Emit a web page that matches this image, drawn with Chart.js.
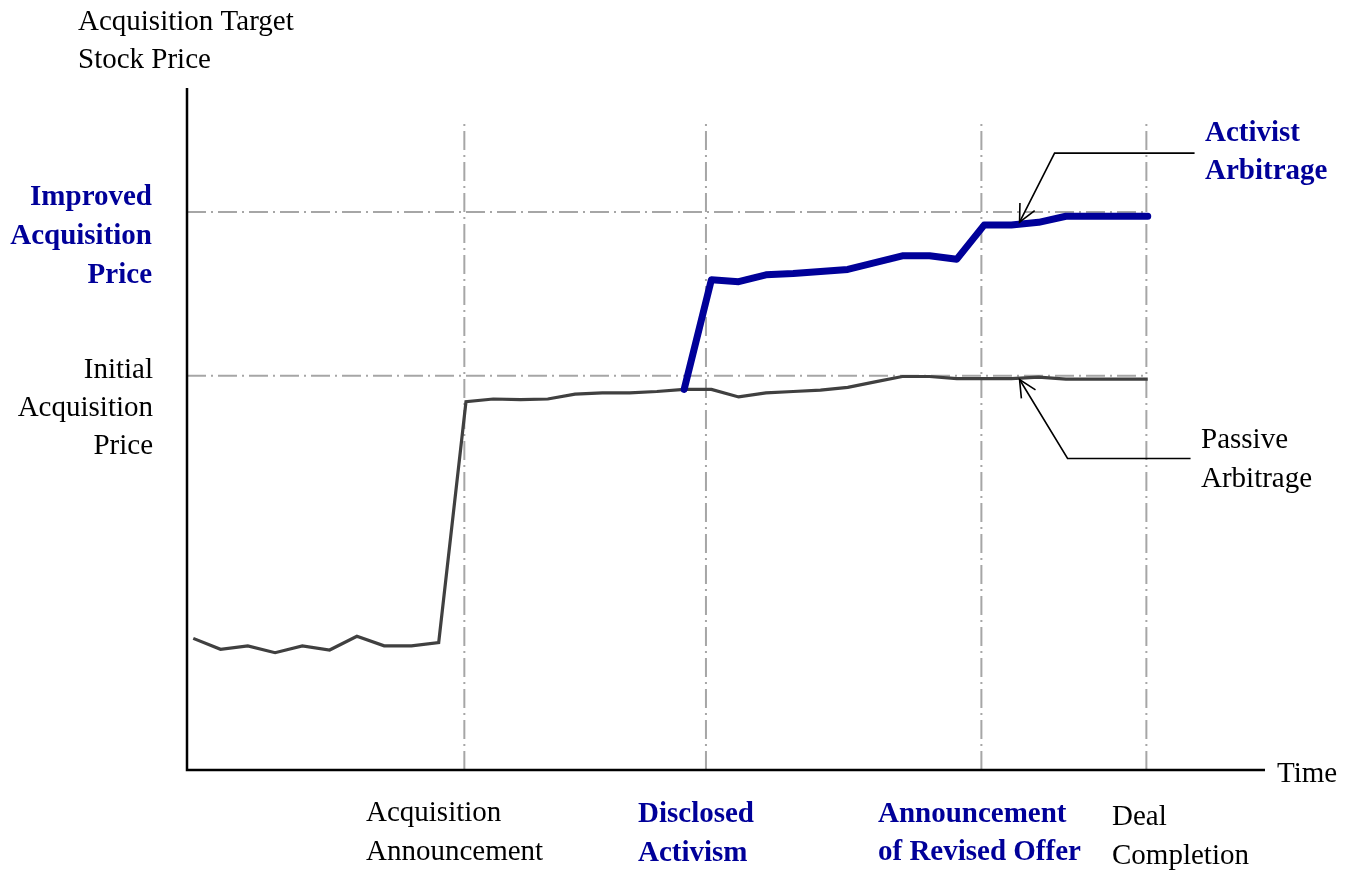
<!DOCTYPE html>
<html lang="en">
<head>
  <meta charset="UTF-8">
  <title>Activist vs Passive Arbitrage</title>
  <style>
    body { margin: 0; background: white; }
    #wrap { width: 1356px; height: 871px; position: relative; }
  </style>
  <script src="https://cdn.jsdelivr.net/npm/chart.js"></script>
</head>
<body>
  <div id="wrap"><canvas id="myChart" width="1356" height="871"></canvas></div>

  <script>
    // time steps (arbitrary units along the time axis)
    const periods = [0, 1, 2, 3, 4, 5, 6, 7, 8, 9, 10, 11, 12, 13, 14, 15, 16, 17,
                     18, 19, 20, 21, 22, 23, 24, 25, 26, 27, 28, 29, 30, 31, 32, 33, 34, 35];

    // target stock price, passive arbitrage path (0-100 scale)
    const passive = [19.3, 17.7, 18.2, 17.2, 18.2, 17.6, 19.6, 18.2, 18.2, 18.7,
                     54.0, 54.4, 54.3, 54.4, 55.1, 55.3, 55.3, 55.5, 55.8, 55.8,
                     54.7, 55.3, 55.5, 55.7, 56.1, 56.9, 57.7, 57.7, 57.4, 57.4,
                     57.4, 57.6, 57.3, 57.3, 57.3, 57.3];

    // activist arbitrage path, starts when activism is disclosed
    const activist = [null, null, null, null, null, null, null, null, null, null,
                      null, null, null, null, null, null, null, null,
                      55.8, 71.9, 71.6, 72.6, 72.8, 73.1, 73.4, 74.4, 75.4, 75.4,
                      74.9, 79.9, 79.9, 80.3, 81.2, 81.2, 81.2, 81.2];

    // price levels (initial offer, improved offer)
    const levelNames = ['Initial Acquisition Price', 'Improved Acquisition Price'];
    const levels = [57.8, 81.8];

    // event times on the time axis
    const eventNames = ['Acquisition Announcement', 'Disclosed Activism',
                        'Announcement of Revised Offer', 'Deal Completion'];
    const events = [9.94, 18.8, 28.9, 34.95];
    const eventTop = 95.3;

    const xMin = -0.23, xMax = 39.3;
    const blue = '#000099';
    const refGrey = '#a6a6a6';
    const dashDot = [19, 5, 2, 5];

    const toPoints = (ys) => periods.map((p, i) => ({ x: p, y: ys[i] }));

    const datasets = [];
    levels.forEach((lv, i) => {
      datasets.push({
        label: levelNames[i],
        data: [{ x: xMin, y: lv }, { x: events[3], y: lv }],
        borderColor: refGrey, borderWidth: 2, borderDash: dashDot,
        pointRadius: 0, order: 5
      });
    });
    events.forEach((ev, i) => {
      datasets.push({
        label: eventNames[i],
        data: [{ x: ev, y: 0 }, { x: ev, y: eventTop }],
        borderColor: refGrey, borderWidth: 2, borderDash: dashDot,
        pointRadius: 0, order: 5
      });
    });
    datasets.push({
      label: 'Passive Arbitrage',
      data: toPoints(passive),
      borderColor: '#404040', borderWidth: 3.2,
      pointRadius: 0, order: 2
    });
    datasets.push({
      label: 'Activist Arbitrage',
      data: toPoints(activist),
      borderColor: blue, borderWidth: 7, borderCapStyle: 'round', borderJoinStyle: 'round',
      pointRadius: 0, spanGaps: false, order: 1
    });

    // axes, texts and callout arrows
    const decor = {
      id: 'decor',
      afterDatasetsDraw(chart) {
        const c = chart.ctx, a = chart.chartArea;
        const xs = chart.scales.x, ys = chart.scales.y;
        c.save();
        // axis lines
        c.strokeStyle = '#000'; c.lineWidth = 2.5;
        c.beginPath();
        c.moveTo(a.left, a.top); c.lineTo(a.left, a.bottom); c.lineTo(a.right, a.bottom);
        c.stroke();

        const txt = (s, x, y, align, bold, color) => {
          c.font = (bold ? 'bold ' : '') + '29px "Liberation Serif", "Times New Roman", serif';
          c.fillStyle = color || '#000';
          c.textAlign = align;
          c.textBaseline = 'alphabetic';
          c.fillText(s, x, y);
        };
        txt('Acquisition Target', 78, 30, 'left');
        txt('Stock Price', 78, 68, 'left');
        txt('Improved', 152, 205, 'right', true, blue);
        txt('Acquisition', 152, 244, 'right', true, blue);
        txt('Price', 152, 283, 'right', true, blue);
        txt('Initial', 153, 378, 'right');
        txt('Acquisition', 153, 416, 'right');
        txt('Price', 153, 454, 'right');
        txt('Activist', 1205, 141, 'left', true, blue);
        txt('Arbitrage', 1205, 179, 'left', true, blue);
        txt('Passive', 1201, 448, 'left');
        txt('Arbitrage', 1201, 487, 'left');
        txt('Time', 1277, 782, 'left');
        txt('Acquisition', 366, 821, 'left');
        txt('Announcement', 366, 860, 'left');
        txt('Disclosed', 638, 822, 'left', true, blue);
        txt('Activism', 638, 861, 'left', true, blue);
        txt('Announcement', 878, 822, 'left', true, blue);
        txt('of Revised Offer', 878, 860, 'left', true, blue);
        txt('Deal', 1112, 825, 'left');
        txt('Completion', 1112, 864, 'left');

        // callouts pointing at the two paths
        const callout = (tx, ty, ex, ey, endX) => {
          c.strokeStyle = '#000'; c.lineWidth = 1.6;
          c.beginPath();
          c.moveTo(endX, ey); c.lineTo(ex, ey); c.lineTo(tx, ty);
          c.stroke();
          const ang = Math.atan2(ey - ty, ex - tx);
          const len = 19, spread = 0.45;
          c.beginPath();
          c.moveTo(tx + len * Math.cos(ang - spread), ty + len * Math.sin(ang - spread));
          c.lineTo(tx, ty);
          c.lineTo(tx + len * Math.cos(ang + spread), ty + len * Math.sin(ang + spread));
          c.stroke();
        };
        const tipX = xs.getPixelForValue(30.3);
        const tipA = ys.getPixelForValue(activist[30]) - 3;
        const tipP = ys.getPixelForValue(passive[30]) + 1;
        callout(tipX, tipA, tipX + 35, tipA - 69, tipX + 175);
        callout(tipX, tipP, tipX + 48, tipP + 79, tipX + 171);
        c.restore();
      }
    };

    const ctx = document.getElementById('myChart').getContext('2d');
    const myChart = new Chart(ctx, {
      type: 'line',
      data: { datasets: datasets },
      options: {
        responsive: false,
        animation: false,
        layout: { padding: { left: 187, right: 91, top: 88, bottom: 101 } },
        plugins: { legend: { display: false }, tooltip: { enabled: false } },
        elements: { line: { tension: 0 } },
        scales: {
          x: { type: 'linear', min: xMin, max: xMax, display: false },
          y: { type: 'linear', min: 0, max: 100, display: false }
        }
      },
      plugins: [decor]
    });
  </script>
</body>
</html>
